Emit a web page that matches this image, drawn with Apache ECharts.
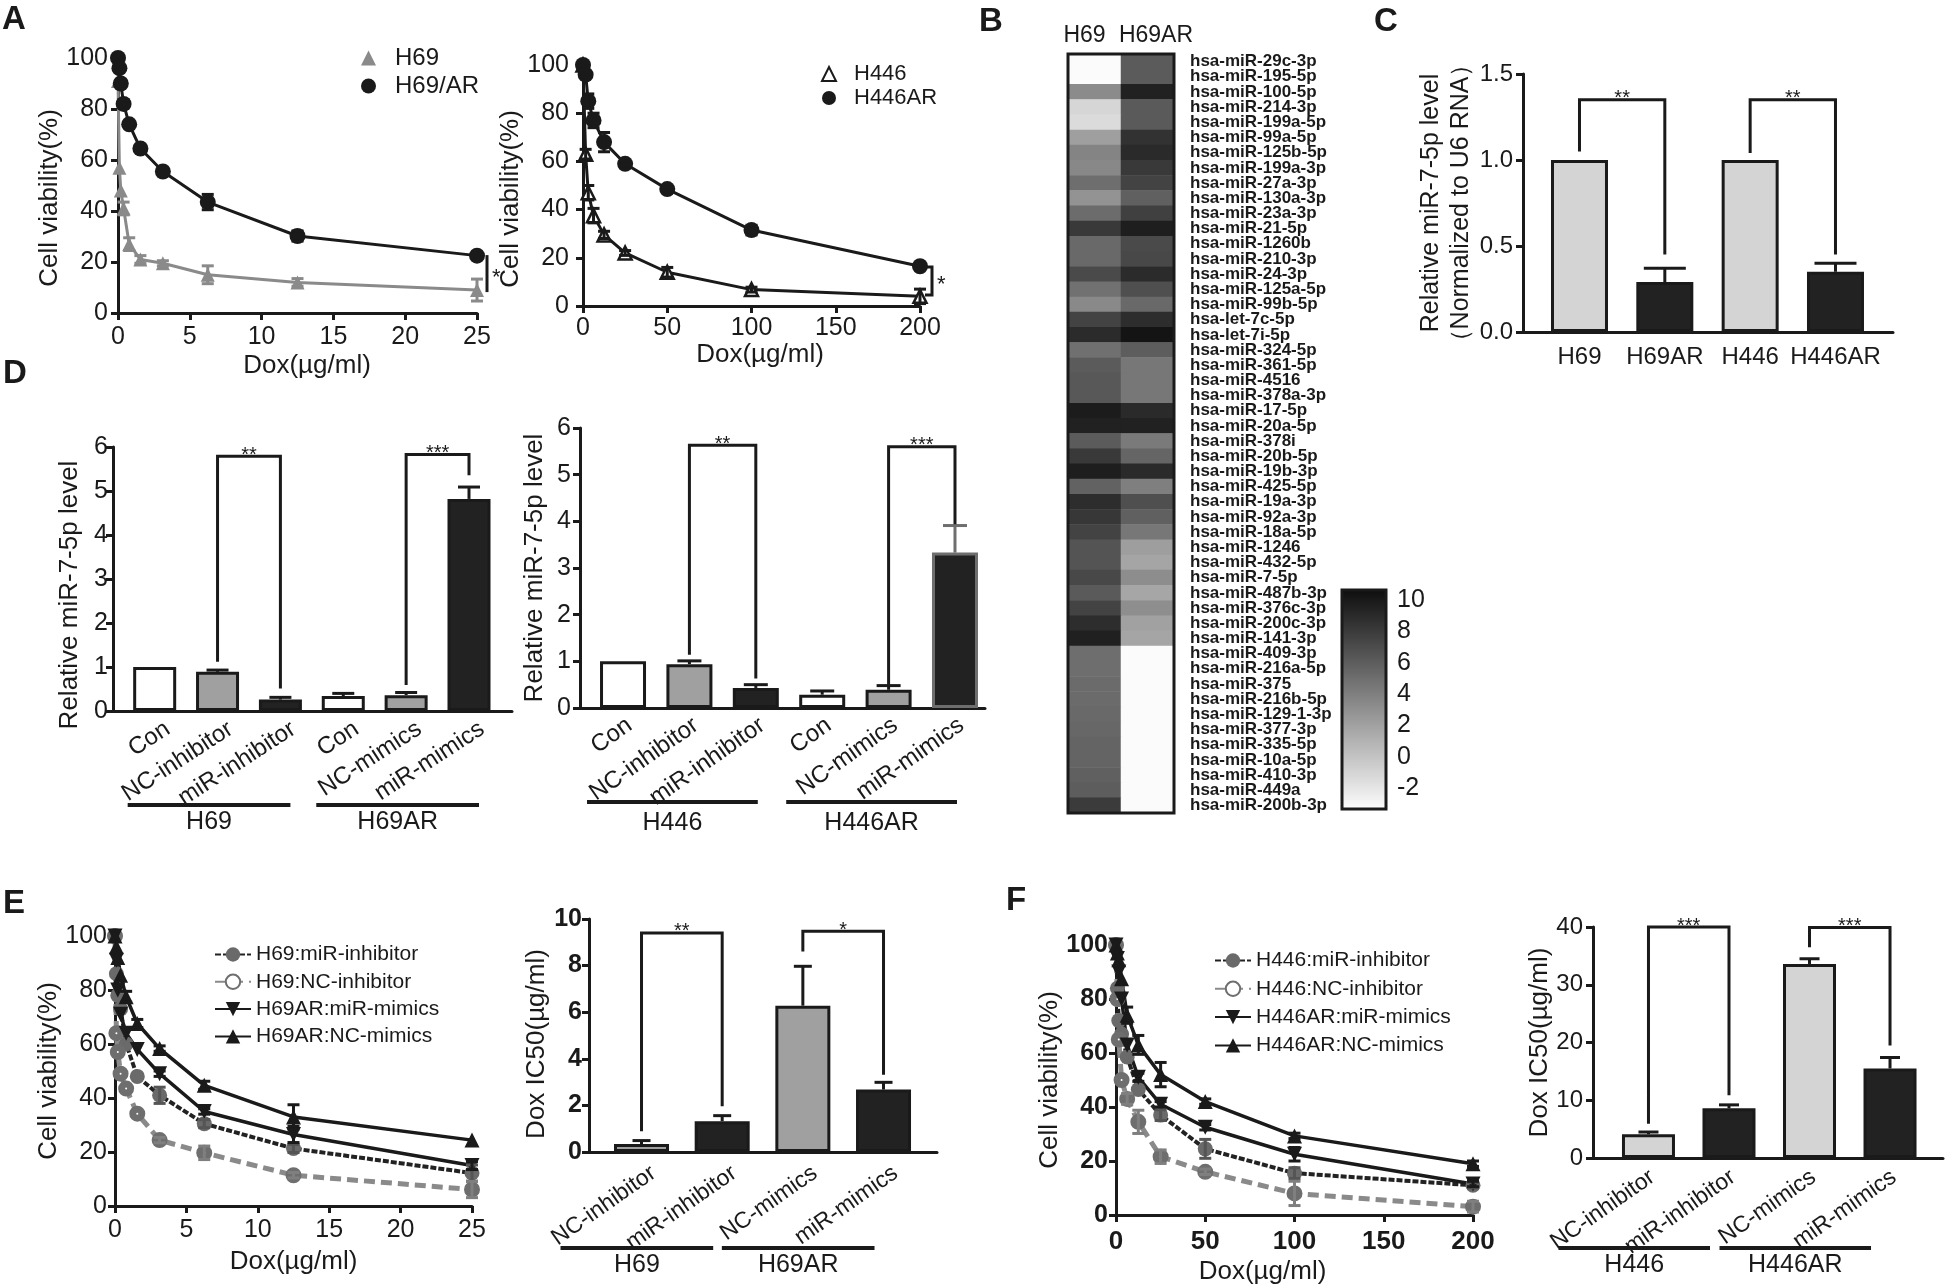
<!DOCTYPE html>
<html><head><meta charset="utf-8">
<script src="https://cdn.jsdelivr.net/npm/echarts@6/dist/echarts.min.js"></script>
<style>html,body{margin:0;padding:0;background:#fff}#c{width:1946px;height:1287px}</style>
</head><body><div id="c"></div>
<script>
// ================= DATA =================
// Panel A (left): H69 vs H69/AR
const doseA1 = [0, 0.098, 0.195, 0.39, 0.78, 1.56, 3.125, 6.25, 12.5, 25];
const viabH69 = [91, 57, 48, 41, 27, 21, 19.5, 15, 12, 9];
const errH69 = [0, 0, 0, 2.5, 2.5, 1.5, 1, 3.5, 1.5, 4.3];
const viabH69AR = [100, 96, 90, 82, 74, 64.5, 55.5, 43.5, 30.2, 22.5];
const errH69AR = [0, 0, 0, 1.5, 0, 0, 0, 3, 2, 0];
const sigA1 = {x: 25, y1: 22.7, y2: 8.2, label: '*'};
// Panel A (right): H446 vs H446AR
const doseA2 = [0, 1.56, 3.125, 6.25, 12.5, 25, 50, 100, 200];
const viabH446 = [100, 63, 47, 37.5, 29.5, 22, 14, 6.8, 4];
const errH446 = [0, 2, 3, 3, 1.5, 1, 2, 1, 3];
const viabH446AR = [100, 96, 85, 77, 68, 59, 48.5, 31.5, 16.5];
const errH446AR = [0, 1, 3, 3, 4, 1, 1, 2, 1];
const sigA2 = {x: 200, y1: 16.2, y2: 4.6, label: '*'};
// Panel B: heatmap
const heatCols = ['H69', 'H69AR'];
const mirNames = ['hsa-miR-29c-3p','hsa-miR-195-5p','hsa-miR-100-5p','hsa-miR-214-3p','hsa-miR-199a-5p','hsa-miR-99a-5p','hsa-miR-125b-5p','hsa-miR-199a-3p','hsa-miR-27a-3p','hsa-miR-130a-3p','hsa-miR-23a-3p','hsa-miR-21-5p','hsa-miR-1260b','hsa-miR-210-3p','hsa-miR-24-3p','hsa-miR-125a-5p','hsa-miR-99b-5p','hsa-let-7c-5p','hsa-let-7i-5p','hsa-miR-324-5p','hsa-miR-361-5p','hsa-miR-4516','hsa-miR-378a-3p','hsa-miR-17-5p','hsa-miR-20a-5p','hsa-miR-378i','hsa-miR-20b-5p','hsa-miR-19b-3p','hsa-miR-425-5p','hsa-miR-19a-3p','hsa-miR-92a-3p','hsa-miR-18a-5p','hsa-miR-1246','hsa-miR-432-5p','hsa-miR-7-5p','hsa-miR-487b-3p','hsa-miR-376c-3p','hsa-miR-200c-3p','hsa-miR-141-3p','hsa-miR-409-3p','hsa-miR-216a-5p','hsa-miR-375','hsa-miR-216b-5p','hsa-miR-129-1-3p','hsa-miR-377-3p','hsa-miR-335-5p','hsa-miR-10a-5p','hsa-miR-410-3p','hsa-miR-449a','hsa-miR-200b-3p'];
const heatH69 = [-3.3,-3.3,3.3,-1.1,-1.4,2.1,3.7,3.5,5.0,2.8,5.1,8.1,5.3,5.3,7.1,4.8,3.4,7.5,8.9,4.9,6.1,6.3,6.3,9.8,9.5,6.1,8.1,9.7,5.7,8.8,8.2,7.5,6.5,6.5,7.2,6.2,7.5,8.8,9.6,5.0,5.0,5.2,5.2,5.3,5.4,5.6,5.6,5.8,6.0,8.0];
const heatH69AR = [6.1,6.1,9.5,6.2,6.2,8.5,9.0,8.1,7.5,5.8,7.7,9.7,7.1,7.2,8.9,6.8,5.3,8.8,10.3,6.0,4.5,4.5,4.5,9.0,9.5,4.3,5.5,9.0,4.0,6.8,5.8,4.5,2.2,1.8,3.2,1.7,3.1,2.0,1.8,-3.3,-3.3,-3.3,-3.3,-3.3,-3.3,-3.3,-3.3,-3.3,-3.3,-3.3];
const scaleMin = -3.33, scaleMax = 10.63;
const scaleTicks = [10, 8, 6, 4, 2, 0, -2];
// Panel C
const cCats = ['H69', 'H69AR', 'H446', 'H446AR'];
const cVals = [1.0, 0.29, 1.0, 0.35];
const cErr = [0, 0.08, 0, 0.05];
const cSig = [{a:0,b:1,ya:1.05,yb:0.45,top:1.35,t:'**'},{a:2,b:3,ya:1.04,yb:0.45,top:1.35,t:'**'}];
// Panel D (left, H69)
const dCats = ['Con','NC-inhibitor','miR-inhibitor','Con','NC-mimics','miR-mimics'];
const d1Vals = [1.0, 0.89, 0.26, 0.34, 0.36, 4.82];
const d1Err = [0, 0.04, 0.05, 0.06, 0.06, 0.27];
const d1Sig = [{a:1,b:2,ya:1.12,yb:0.51,top:5.79,t:'**'},{a:4,b:5,ya:0.59,yb:5.36,top:5.83,t:'***'}];
const d1Groups = [{name:'H69',from:0,to:2},{name:'H69AR',from:3,to:5}];
// Panel D (right, H446)
const d2Vals = [1.0, 0.94, 0.43, 0.285, 0.39, 3.33];
const d2Err = [0, 0.07, 0.07, 0.08, 0.09, 0.58];
const d2Sig = [{a:1,b:2,ya:1.14,yb:0.63,top:5.63,t:'**'},{a:4,b:5,ya:0.5,yb:3.94,top:5.6,t:'***'}];
const d2Groups = [{name:'H446',from:0,to:2},{name:'H446AR',from:3,to:5}];
// Panel E (left)
const doseE = [0, 0.098, 0.195, 0.39, 0.78, 1.56, 3.125, 6.25, 12.5, 25];
const eMiRInh = [100, 86, 78, 73, 60, 48, 41, 30.5, 21.3, 12.2];
const eMiRInhErr = [0, 0, 0, 0, 0, 0, 3, 1.5, 1.5, 3];
const eNCInh = [100, 64, 57, 49, 43.5, 34.2, 24.4, 19.7, 11.4, 6.1];
const eNCInhErr = [0, 0, 0, 0, 0, 0, 1, 2.5, 1, 3];
const eARmiR = [100, 91, 80, 71, 64, 58, 49, 35, 26.5, 15];
const eARmiRErr = [0, 0, 0, 0, 0, 0, 1, 1, 3, 1.5];
const eARNC = [100, 96, 92, 85.5, 77.5, 67.6, 58.3, 44.7, 33, 24.4];
const eARNCErr = [0, 0, 0, 0, 2, 1.5, 1, 1.5, 4.5, 0];
// Panel E (right, IC50)
const icCatsE = ['NC-inhibitor','miR-inhibitor','NC-mimics','miR-mimics'];
const e2Vals = [0.34, 1.32, 6.28, 2.68];
const e2Err = [0.15, 0.24, 1.69, 0.31];
const e2Sig = [{a:0,b:1,ya:0.89,yb:1.96,top:9.4,t:'**'},{a:2,b:3,ya:8.6,yb:3.32,top:9.47,t:'*'}];
const e2Groups = [{name:'H69',from:0,to:1},{name:'H69AR',from:2,to:3}];
// Panel F (left)
const doseF = [0, 0.78, 1.56, 3.125, 6.25, 12.5, 25, 50, 100, 200];
const fMiRInh = [100, 84, 72, 67, 58.5, 46.5, 37, 24.5, 15.5, 11];
const fMiRInhErr = [0, 0, 0, 0, 0, 0, 2, 3.5, 2, 1];
const fNCInh = [100, 80, 65, 50, 43, 34.5, 21.6, 16, 8, 3.1];
const fNCInhErr = [0, 0, 0, 0, 2, 4.3, 2.5, 1, 4.5, 2];
const fARmiR = [100, 95, 90, 80, 63, 51, 41, 32.5, 22.5, 11.5];
const fARmiRErr = [0, 0, 0, 0, 0, 1.5, 1, 1, 2.5, 1];
const fARNC = [100, 97, 94.5, 87.5, 74, 63, 52, 42, 29.3, 19];
const fARNCErr = [0, 0, 0, 0, 3, 3.5, 4.5, 1, 1, 1];
// Panel F (right, IC50)
const f2Vals = [4.1, 8.6, 33.6, 15.5];
const f2Err = [0.4, 0.6, 0.9, 1.9];
const f2Sig = [{a:0,b:1,ya:5.95,yb:10.85,top:40,t:'***'},{a:2,b:3,ya:36.5,yb:19.5,top:39.9,t:'***'}];
const f2Groups = [{name:'H446',from:0,to:1},{name:'H446AR',from:2,to:3}];

// ================= STYLE / HELPERS =================
const FONT = '"Liberation Sans", Arial, Helvetica, sans-serif';
const INK = '#1a1a1a';
const WHITE = '#ffffff', MID = '#a0a0a0', LIGHT = '#d4d4d4', DARK = '#222222';

function merge(a, b) {
  const o = Object.assign({}, a);
  for (const k in b) {
    const bv = b[k], av = a[k];
    if (bv && typeof bv === 'object' && !Array.isArray(bv) && av && typeof av === 'object' && !Array.isArray(av)) o[k] = merge(av, bv);
    else o[k] = bv;
  }
  return o;
}
const BASE = {
  axisLine: {show: true, onZero: false, lineStyle: {color: INK, width: 3}},
  axisTick: {show: true, inside: false, length: 7, lineStyle: {color: INK, width: 3}},
  splitLine: {show: false},
  axisLabel: {color: INK, fontSize: 25, fontFamily: FONT},
  nameLocation: 'middle',
  nameTextStyle: {color: INK, fontSize: 26, fontFamily: FONT},
  axisPointer: {show: false}
};
const ax = (o) => merge(BASE, o);

function catLabelAxis(grid, min, max, cats, shift, rotate, fontSize, margin) {
  return ax({gridIndex: grid, type: 'value', min: min, max: max,
    axisTick: {show: false},
    axisLabel: {customValues: cats.map((c, i) => i + shift), formatter: (v) => cats[Math.round(v - shift)],
      rotate: rotate, fontSize: fontSize, margin: margin}});
}

function barSeries(xi, yi, vals, fills, borders, width) {
  return {type: 'bar', xAxisIndex: xi, yAxisIndex: yi, silent: true, barWidth: width, z: 2,
    data: vals.map((v, i) => ({value: [i, v], itemStyle: {color: fills[i], borderColor: borders[i], borderWidth: 3}}))};
}
function barErrSeries(xi, yi, vals, errs, colors, capW) {
  return {type: 'custom', xAxisIndex: xi, yAxisIndex: yi, silent: true, z: 3,
    data: vals.map((v, i) => [i, v, v + errs[i]]),
    renderItem: (p, api) => {
      if (!(errs[p.dataIndex] > 0)) return null;
      const a = api.coord([api.value(0), api.value(1)]), b = api.coord([api.value(0), api.value(2)]);
      const c = colors[p.dataIndex];
      return {type: 'group', children: [
        {type: 'line', shape: {x1: a[0], y1: a[1], x2: b[0], y2: b[1]}, style: {stroke: c, lineWidth: 3}},
        {type: 'line', shape: {x1: b[0] - capW / 2, y1: b[1], x2: b[0] + capW / 2, y2: b[1]}, style: {stroke: c, lineWidth: 3}}]};
    }};
}
function lineErrSeries(xi, yi, doses, vals, errs, color, capW) {
  const d = [];
  doses.forEach((x, i) => { if (errs[i] > 0) d.push([x, vals[i] - errs[i], vals[i] + errs[i]]); });
  return {type: 'custom', xAxisIndex: xi, yAxisIndex: yi, silent: true, z: 4, data: d,
    renderItem: (p, api) => {
      const a = api.coord([api.value(0), api.value(1)]), b = api.coord([api.value(0), api.value(2)]);
      const st = {stroke: color, lineWidth: 3};
      return {type: 'group', children: [
        {type: 'line', shape: {x1: a[0], y1: a[1], x2: b[0], y2: b[1]}, style: st},
        {type: 'line', shape: {x1: a[0] - capW / 2, y1: a[1], x2: a[0] + capW / 2, y2: a[1]}, style: st},
        {type: 'line', shape: {x1: b[0] - capW / 2, y1: b[1], x2: b[0] + capW / 2, y2: b[1]}, style: st}]};
    }};
}
function bracketSeries(xi, yi, br, fontSize) {
  return {type: 'custom', xAxisIndex: xi, yAxisIndex: yi, silent: true, z: 5,
    data: br.map(b => [b.a, b.b, b.ya, b.yb, b.top]),
    renderItem: (p, api) => {
      const a = api.value(0), b = api.value(1);
      const p1 = api.coord([a, api.value(2)]), p2 = api.coord([a, api.value(4)]);
      const p3 = api.coord([b, api.value(4)]), p4 = api.coord([b, api.value(3)]);
      return {type: 'group', children: [
        {type: 'polyline', shape: {points: [p1, p2, p3, p4]}, style: {stroke: INK, lineWidth: 3, fill: null}},
        {type: 'text', x: (p2[0] + p3[0]) / 2, y: p2[1] - 1,
          style: {text: br[p.dataIndex].t, textAlign: 'center', textVerticalAlign: 'middle', font: fontSize + 'px ' + FONT, fill: INK}}]};
    }};
}
function groupSeries(xi, yi, groups, padL, padR, lineOff, labelOff, fontSize) {
  return {type: 'custom', xAxisIndex: xi, yAxisIndex: yi, silent: true, z: 5,
    data: groups.map(g => [g.from, g.to]),
    renderItem: (p, api) => {
      const a = api.coord([api.value(0), 0]), b = api.coord([api.value(1), 0]);
      const y = a[1] + lineOff, x1 = a[0] - padL, x2 = b[0] + padR;
      return {type: 'group', children: [
        {type: 'line', shape: {x1: x1, y1: y, x2: x2, y2: y}, style: {stroke: INK, lineWidth: 4}},
        {type: 'text', x: (x1 + x2) / 2, y: a[1] + labelOff,
          style: {text: groups[p.dataIndex].name, textAlign: 'center', textVerticalAlign: 'middle', font: fontSize + 'px ' + FONT, fill: INK}}]};
    }};
}
function sigSideSeries(xi, yi, sig, dx, tick) {
  return {type: 'custom', xAxisIndex: xi, yAxisIndex: yi, silent: true, z: 5,
    data: [[sig.x, sig.y1, sig.y2]],
    renderItem: (p, api) => {
      const a = api.coord([api.value(0), api.value(1)]), b = api.coord([api.value(0), api.value(2)]);
      const X = a[0] + dx;
      const pts = tick ? [[X - tick, a[1]], [X, a[1]], [X, b[1]], [X - tick, b[1]]] : [[X, a[1]], [X, b[1]]];
      return {type: 'group', children: [
        {type: 'polyline', shape: {points: pts}, style: {stroke: INK, lineWidth: 3, fill: null}},
        {type: 'text', x: X + 5, y: (a[1] + b[1]) / 2 + 4, style: {text: sig.label, textAlign: 'left', textVerticalAlign: 'middle', font: '22px ' + FONT, fill: INK}}]};
    }};
}
function frameSeries(xi, yi) {
  return {type: 'custom', xAxisIndex: xi, yAxisIndex: yi, silent: true, z: 10, data: [[0, 0]],
    renderItem: (p) => ({type: 'rect', shape: {x: p.coordSys.x, y: p.coordSys.y, width: p.coordSys.width, height: p.coordSys.height},
      style: {fill: null, stroke: INK, lineWidth: 3}})};
}
function lineSeries(name, xi, yi, doses, vals, sym, size, item, line, rot) {
  return {type: 'line', name: name, xAxisIndex: xi, yAxisIndex: yi, silent: true, clip: false,
    symbol: sym, symbolSize: size, symbolRotate: rot || 0, showSymbol: true,
    itemStyle: item, lineStyle: line, data: doses.map((d, i) => [d, vals[i]])};
}

// ================= GRIDS =================
const gridBoxes = [
  {left: 118, top: 58, width: 359, height: 255},   // 0 A1
  {left: 583, top: 65, width: 337, height: 241},   // 1 A2
  {left: 1068, top: 54, width: 106, height: 759},  // 2 B heatmap
  {left: 1342, top: 590, width: 44, height: 219},  // 3 colour bar
  {left: 1523, top: 74, width: 370, height: 258},  // 4 C
  {left: 113, top: 447, width: 399, height: 264},  // 5 D1
  {left: 580, top: 428, width: 405, height: 280},  // 6 D2
  {left: 115, top: 936, width: 357, height: 270},  // 7 E1
  {left: 589, top: 919, width: 348, height: 233},  // 8 E2
  {left: 1116, top: 945, width: 357, height: 270}, // 9 F1
  {left: 1593, top: 927, width: 350, height: 231}  // 10 F2
];

const xAxes = [
  ax({gridIndex: 0, type: 'value', min: 0, max: 25, interval: 5, axisLabel: {margin: 12}, name: 'Dox(µg/ml)', nameGap: 40, nameTextStyle: {padding: [0, 0, 0, 19]}}),
  ax({gridIndex: 1, type: 'value', min: 0, max: 200, interval: 50, axisLabel: {margin: 10}, name: 'Dox(µg/ml)', nameGap: 36, nameTextStyle: {padding: [0, 0, 0, 17]}}),
  {gridIndex: 2, type: 'category', data: heatCols, position: 'top', axisLine: {show: false}, axisTick: {show: false},
    axisLabel: {interval: 0, hideOverlap: false, color: INK, fontSize: 23, margin: 7, fontFamily: FONT,
      formatter: (v, i) => '{c' + i + '|' + v + '}',
      rich: {c0: {fontSize: 23, padding: [0, 20, 0, 0]}, c1: {fontSize: 23, padding: [0, 0, 0, 17]}}}, splitLine: {show: false}},
  {gridIndex: 3, type: 'value', min: 0, max: 1, show: false},
  catLabelAxis(4, -0.662, 3.674, cCats, 0, 0, 24, 13),
  catLabelAxis(5, -0.663, 5.684, dCats, 0.21, 33, 24, 16),
  catLabelAxis(6, -0.648, 5.452, dCats, 0.1, 35, 24, 15),
  ax({gridIndex: 7, type: 'value', min: 0, max: 25, interval: 5, axisLabel: {margin: 12}, name: 'Dox(µg/ml)', nameGap: 43}),
  catLabelAxis(8, -0.651, 3.663, icCatsE, 0.15, 35, 23, 19),
  ax({gridIndex: 9, type: 'value', min: 0, max: 200, interval: 50, axisLabel: {margin: 14, fontWeight: 'bold', fontSize: 26}, name: 'Dox(µg/ml)', nameGap: 44, nameTextStyle: {padding: [0, 64, 0, 0]}}),
  catLabelAxis(10, -0.689, 3.658, icCatsE, 0.05, 35, 23, 17)
];
const yAxes = [
  ax({gridIndex: 0, type: 'value', min: 0, max: 100, interval: 20, axisLabel: {margin: 10}, name: 'Cell viability(%)', nameGap: 43, nameTextStyle: {padding: [0, 25, 0, 0]}}),
  ax({gridIndex: 1, type: 'value', min: 0, max: 100, interval: 20, axisLabel: {margin: 14}, name: 'Cell viability(%)', nameGap: 45, nameTextStyle: {padding: [0, 27, 0, 0]}}),
  {gridIndex: 2, type: 'category', data: mirNames, inverse: true, position: 'right', axisLine: {show: false}, axisTick: {show: false},
    axisLabel: {interval: 0, hideOverlap: false, color: INK, fontSize: 17, fontWeight: 'bold', margin: 16, fontFamily: FONT}, splitLine: {show: false}},
  {gridIndex: 3, type: 'value', min: scaleMin, max: scaleMax, position: 'left', axisLine: {show: false}, splitLine: {show: false},
    axisTick: {show: true, inside: true, length: 6, customValues: scaleTicks, lineStyle: {color: INK, width: 3}}, axisLabel: {show: false}},
  {gridIndex: 3, type: 'value', min: scaleMin, max: scaleMax, position: 'right', axisLine: {show: false}, splitLine: {show: false},
    axisTick: {show: true, inside: true, length: 6, customValues: scaleTicks, lineStyle: {color: INK, width: 3}},
    axisLabel: {show: true, customValues: scaleTicks, color: INK, fontSize: 25, margin: 11, fontFamily: FONT}},
  ax({gridIndex: 4, type: 'value', min: 0, max: 1.5, interval: 0.5, axisLabel: {margin: 10, fontSize: 24, formatter: (v) => v.toFixed(1)},
    name: 'Relative miR-7-5p level\n（Normalized to U6 RNA）', nameGap: 46, nameTextStyle: {fontSize: 25, lineHeight: 30}}),
  ax({gridIndex: 5, type: 'value', min: 0, max: 6, interval: 1, axisLabel: {margin: 5}, name: 'Relative miR-7-5p level', nameGap: 30, nameTextStyle: {padding: [0, 32, 0, 0]}}),
  ax({gridIndex: 6, type: 'value', min: 0, max: 6, interval: 1, axisLabel: {margin: 9}, name: 'Relative miR-7-5p level', nameGap: 32}),
  ax({gridIndex: 7, type: 'value', min: 0, max: 100, interval: 20, axisLabel: {margin: 8}, name: 'Cell viability(%)', nameGap: 52}),
  ax({gridIndex: 8, type: 'value', min: 0, max: 10, interval: 2, axisLabel: {margin: 7, fontWeight: 'bold'}, name: 'Dox IC50(µg/ml)', nameGap: 34, nameTextStyle: {padding: [0, 17, 0, 0]}}),
  ax({gridIndex: 9, type: 'value', min: 0, max: 100, interval: 20, axisLabel: {margin: 8, fontWeight: 'bold'}, name: 'Cell viability(%)', nameGap: 50}),
  ax({gridIndex: 10, type: 'value', min: 0, max: 40, interval: 10, axisLabel: {margin: 10, fontSize: 24}, name: 'Dox IC50(µg/ml)', nameGap: 37})
];

// ================= SERIES =================
const series = [];
// A1
series.push(lineSeries('H69', 0, 0, doseA1, viabH69, 'triangle', 14, {color: '#8a8a8a'}, {color: '#8a8a8a', width: 3}));
series.push(lineErrSeries(0, 0, doseA1, viabH69, errH69, '#8a8a8a', 12));
series.push(lineSeries('H69/AR', 0, 0, doseA1, viabH69AR, 'circle', 16, {color: INK}, {color: INK, width: 3}));
series.push(lineErrSeries(0, 0, doseA1, viabH69AR, errH69AR, INK, 12));
series.push(sigSideSeries(0, 0, sigA1, 10, 0));
// A2
series.push(lineSeries('H446', 1, 1, doseA2, viabH446, 'triangle', 13, {color: WHITE, borderColor: INK, borderWidth: 2.5}, {color: INK, width: 3}));
series.push(lineErrSeries(1, 1, doseA2, viabH446, errH446, INK, 12));
series.push(lineSeries('H446AR', 1, 1, doseA2, viabH446AR, 'circle', 16, {color: INK}, {color: INK, width: 3}));
series.push(lineErrSeries(1, 1, doseA2, viabH446AR, errH446AR, INK, 12));
series.push(sigSideSeries(1, 1, sigA2, 12, 7));
// B heatmap
const heatData = [];
mirNames.forEach((m, i) => { heatData.push([0, i, heatH69[i]]); heatData.push([1, i, heatH69AR[i]]); });
const heatIndex = series.length;
series.push({type: 'heatmap', xAxisIndex: 2, yAxisIndex: 2, silent: true, data: heatData, itemStyle: {borderWidth: 0}});
series.push(frameSeries(2, 2));
series.push(frameSeries(3, 3));
// C
series.push(barSeries(4, 5, cVals, [LIGHT, DARK, LIGHT, DARK], [INK, INK, INK, INK], 57));
series.push(barErrSeries(4, 5, cVals, cErr, [INK, INK, INK, INK], 42));
series.push(bracketSeries(4, 5, cSig, 20));
// D1
series.push(barSeries(5, 6, d1Vals, [WHITE, MID, DARK, WHITE, MID, DARK], [INK, INK, INK, INK, INK, INK], 43));
series.push(barErrSeries(5, 6, d1Vals, d1Err, [INK, INK, INK, INK, INK, INK], 22));
series.push(bracketSeries(5, 6, d1Sig, 20));
series.push(groupSeries(5, 6, d1Groups, 27, 10, 94, 111, 25));
// D2
series.push(barSeries(6, 7, d2Vals, [WHITE, MID, DARK, WHITE, MID, DARK], [INK, INK, INK, INK, INK, '#6e6e6e'], 46));
series.push(barErrSeries(6, 7, d2Vals, d2Err, [INK, INK, INK, INK, INK, '#6e6e6e'], 24));
series.push(bracketSeries(6, 7, d2Sig, 20));
series.push(groupSeries(6, 7, d2Groups, 36, 2, 94, 115, 25));
// E1
const styMiRInh = [{color: '#6a6a6a'}, {color: '#222', width: 4, type: [6, 2]}];
const styNCInh = [{color: WHITE, borderColor: '#6e6e6e', borderWidth: 7}, {color: '#8a8a8a', width: 5, type: [11, 6]}];
const styARmiR = [{color: INK}, {color: INK, width: 3.5}];
const styARNC = [{color: INK}, {color: INK, width: 3.5}];
series.push(lineSeries('H69:miR-inhibitor', 7, 8, doseE, eMiRInh, 'circle', 15, styMiRInh[0], styMiRInh[1]));
series.push(lineSeries('H69:NC-inhibitor', 7, 8, doseE, eNCInh, 'circle', 9, styNCInh[0], styNCInh[1]));
series.push(lineSeries('H69AR:miR-mimics', 7, 8, doseE, eARmiR, 'triangle', 15, styARmiR[0], styARmiR[1], 180));
series.push(lineSeries('H69AR:NC-mimics', 7, 8, doseE, eARNC, 'triangle', 15, styARNC[0], styARNC[1]));
series.push(lineErrSeries(7, 8, doseE, eMiRInh, eMiRInhErr, '#555', 12));
series.push(lineErrSeries(7, 8, doseE, eNCInh, eNCInhErr, '#7f7f7f', 12));
series.push(lineErrSeries(7, 8, doseE, eARmiR, eARmiRErr, INK, 12));
series.push(lineErrSeries(7, 8, doseE, eARNC, eARNCErr, INK, 12));
// E2
series.push(barSeries(8, 9, e2Vals, [MID, DARK, MID, DARK], [INK, INK, INK, INK], 55));
series.push(barErrSeries(8, 9, e2Vals, e2Err, [INK, INK, INK, INK], 18));
series.push(bracketSeries(8, 9, e2Sig, 20));
series.push(groupSeries(8, 9, e2Groups, 81, -9, 96, 113, 25));
// F1
series.push(lineSeries('H446:miR-inhibitor', 9, 10, doseF, fMiRInh, 'circle', 15, styMiRInh[0], styMiRInh[1]));
series.push(lineSeries('H446:NC-inhibitor', 9, 10, doseF, fNCInh, 'circle', 9, styNCInh[0], styNCInh[1]));
series.push(lineSeries('H446AR:miR-mimics', 9, 10, doseF, fARmiR, 'triangle', 15, styARmiR[0], styARmiR[1], 180));
series.push(lineSeries('H446AR:NC-mimics', 9, 10, doseF, fARNC, 'triangle', 15, styARNC[0], styARNC[1]));
series.push(lineErrSeries(9, 10, doseF, fMiRInh, fMiRInhErr, '#555', 12));
series.push(lineErrSeries(9, 10, doseF, fNCInh, fNCInhErr, '#7f7f7f', 12));
series.push(lineErrSeries(9, 10, doseF, fARmiR, fARmiRErr, INK, 12));
series.push(lineErrSeries(9, 10, doseF, fARNC, fARNCErr, INK, 12));
// F2
series.push(barSeries(10, 11, f2Vals, [LIGHT, DARK, LIGHT, DARK], [INK, INK, INK, INK], 53));
series.push(barErrSeries(10, 11, f2Vals, f2Err, [INK, INK, INK, INK], 20));
series.push(bracketSeries(10, 11, f2Sig, 20));
series.push(groupSeries(10, 11, f2Groups, 90, -19, 90, 107, 25));

// ================= LEGENDS =================
const legBase = {orient: 'vertical', padding: 0, selectedMode: false, textStyle: {color: INK, fontFamily: FONT}};
const legends = [
  merge(legBase, {left: 361, top: 46, itemWidth: 15, itemHeight: 15, itemGap: 4, textStyle: {fontSize: 24, lineHeight: 24, padding: [0, 0, 0, 14]},
    data: [{name: 'H69', icon: 'triangle'}, {name: 'H69/AR', icon: 'circle'}]}),
  merge(legBase, {left: 821, top: 63, itemWidth: 14, itemHeight: 14, itemGap: 2, textStyle: {fontSize: 22, lineHeight: 22, padding: [0, 0, 0, 13]},
    data: [{name: 'H446', icon: 'triangle'}, {name: 'H446AR', icon: 'circle'}]}),
  merge(legBase, {left: 214, top: 944, itemWidth: 36, itemHeight: 18, itemGap: 6.3, textStyle: {fontSize: 21, lineHeight: 20},
    data: ['H69:miR-inhibitor', 'H69:NC-inhibitor', 'H69AR:miR-mimics', 'H69AR:NC-mimics']}),
  merge(legBase, {left: 1214, top: 950, itemWidth: 36, itemHeight: 18, itemGap: 7.3, textStyle: {fontSize: 21, lineHeight: 20},
    data: ['H446:miR-inhibitor', 'H446:NC-inhibitor', 'H446AR:miR-mimics', 'H446AR:NC-mimics']})
];

// ================= PANEL LETTERS =================
const letters = [['A', 2, 3], ['B', 979, 5], ['C', 1374, 5], ['D', 3, 357], ['E', 3, 887], ['F', 1006, 884]];

const option = {
  animation: false,
  backgroundColor: '#ffffff',
  textStyle: {fontFamily: FONT, color: INK},
  tooltip: {show: false},
  grid: gridBoxes.map(g => Object.assign({show: false, containLabel: false, outerBoundsMode: 'none'}, g)),
  xAxis: xAxes,
  yAxis: yAxes,
  legend: legends,
  visualMap: [{type: 'continuous', min: scaleMin, max: scaleMax, seriesIndex: heatIndex, orient: 'vertical',
    left: 1342, top: 590, itemWidth: 44, itemHeight: 219, padding: 0, calculable: false, hoverLink: false,
    text: null, showLabel: false, inRange: {color: ['#fcfcfc', '#0e0e0e']}}],
  graphic: letters.map(l => ({type: 'text', left: l[1], top: l[2], silent: true,
    style: {text: l[0], font: 'bold 33px ' + FONT, fill: INK}})),
  series: series
};
const chart = echarts.init(document.getElementById('c'), null, {renderer: 'canvas', width: 1946, height: 1287});
chart.setOption(option);
</script>
</body></html>
